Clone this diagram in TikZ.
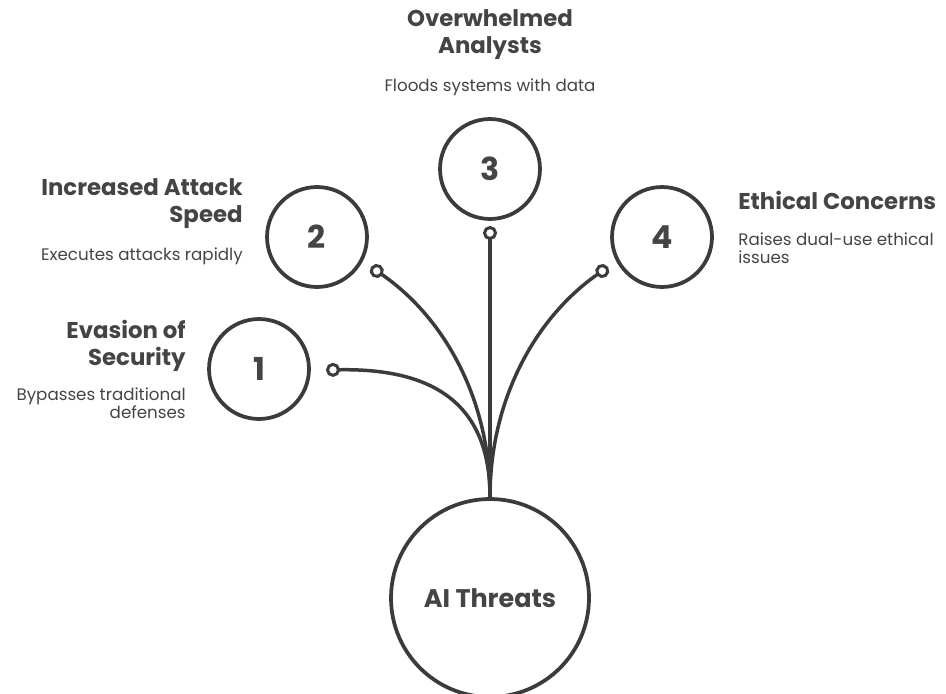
\documentclass[tikz,border=0pt]{standalone}
\usepackage{fontspec}
\setmainfont{Poppins}
\usepackage{xcolor}
\definecolor{ink}{HTML}{3B3B3B}
\definecolor{inktext}{HTML}{444444}
\usetikzlibrary{arrows.meta,positioning}

\begin{document}
\begin{tikzpicture}[
  x=0.02cm, y=-0.02cm,
  step circle/.style={circle, draw=ink, line width=0.075cm, minimum size=2cm, inner sep=0pt,
    font=\fontsize{18}{20}\selectfont\bfseries, text=inktext},
  hub circle/.style={circle, draw=ink, line width=0.075cm, minimum size=3.96cm, inner sep=0pt,
    font=\fontsize{14.5}{16}\selectfont\bfseries, text=inktext},
  link/.style={{Circle[open,length=2.8mm,width=2.8mm,line width=0.06cm]}-, draw=ink, line width=0.07cm, line cap=round},
  title/.style={font=\fontsize{13}{15.5}\selectfont\bfseries, text=inktext, inner sep=0pt},
  desc/.style={font=\fontsize{9.5}{10.4}\selectfont, text=inktext, inner sep=0pt}
]
\useasboundingbox (0,0) rectangle (946,693);

% central circle
\node[hub circle] (hub) at (490,598) {AI Threats};

% numbered circles
\node[step circle] (n1) at (259,369) {1};
\node[step circle] (n2) at (317,237) {2};
\node[step circle] (n3) at (490,169) {3};
\node[step circle] (n4) at (662,237) {4};

% connector ends
\coordinate (e1) at (326,370);
\coordinate (e2) at (371,267);
\coordinate (e3) at (490,226);
\coordinate (e4) at (608,267);

% connectors
\draw[link] (e1) .. controls (435,368) and (490,405) .. (hub.north);
\draw[link] (e2) .. controls (445,318) and (490,400) .. (hub.north);
\draw[link] (e3) -- (hub.north);
\draw[link] (e4) .. controls (535,318) and (490,400) .. (hub.north);

% labels
\node[title, align=center, anchor=north] (t3) at (490,9) {Overwhelmed\\Analysts};
\node[desc, anchor=north] (d3) at (490,78) {Floods systems with data};

\node[title, align=right, anchor=north east] (t2) at (243,178) {Increased Attack\\Speed};
\node[desc, anchor=north east] (d2) at (243,247) {Executes attacks rapidly};

\node[title, align=left, anchor=north west] (t4) at (738,191) {Ethical Concerns};
\node[desc, align=left, anchor=north west] (d4) at (738,232) {Raises dual-use ethical\\issues};

\node[title, align=right, anchor=north east] (t1) at (186,320) {Evasion of\\Security};
\node[desc, align=right, anchor=north east] (d1) at (186,387) {Bypasses traditional\\defenses};

\end{tikzpicture}
\end{document}
